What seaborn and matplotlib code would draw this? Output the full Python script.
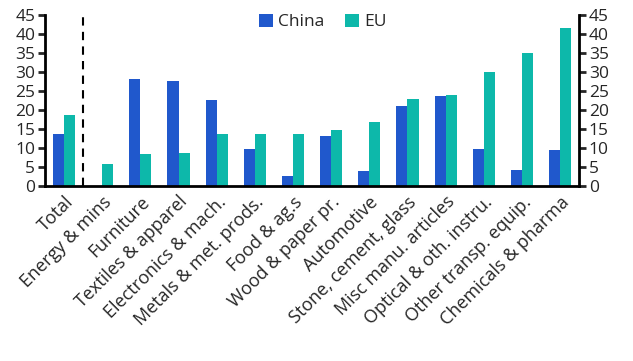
import pandas as pd
import seaborn as sns
import matplotlib.pyplot as plt
from matplotlib.ticker import FixedLocator, NullFormatter
from matplotlib.transforms import ScaledTranslation

sectors = ['Total', 'Energy & mins', 'Furniture', 'Textiles & apparel',
           'Electronics & mach.', 'Metals & met. prods.', 'Food & ag.s',
           'Wood & paper pr.', 'Automotive', 'Stone, cement, glass',
           'Misc manu. articles', 'Optical & oth. instru.',
           'Other transp. equip.', 'Chemicals & pharma']
china = [13.6, 0.0, 28.1, 27.6, 22.6, 9.7, 2.6, 13.1, 3.9, 21.0, 23.7, 9.7, 4.1, 9.4]
eu = [18.6, 5.7, 8.4, 8.6, 13.6, 13.6, 13.6, 14.7, 16.8, 22.9, 23.9, 30.0, 35.0, 41.6]
yticks = list(range(0, 50, 5))

df = pd.DataFrame({'sector': sectors * 2,
                   'value': china + eu,
                   'region': ['China'] * len(sectors) + ['EU'] * len(sectors)})

sns.set_style('white')
plt.rcParams['font.family'] = ['Open Sans', 'DejaVu Sans']

fig = plt.figure(figsize=(6.33, 3.61), dpi=100)
ax = fig.add_axes([0.071, 0.485, 0.844, 0.473])
sns.barplot(data=df, x='sector', y='value', hue='region', ax=ax,
            palette={'China': '#2058CC', 'EU': '#0DB8AA'}, width=0.58,
            saturation=1, dodge=True, linewidth=0)

ax.set_xlim(-0.5, len(sectors) - 0.5)
ax.set_ylim(0, 45)
ax.set_yticks(yticks)
ax.set_xlabel('')
ax.set_ylabel('')
ax.axvline(0.5, color='black', ls=(0, (4, 3)), lw=1.5)

# ticks at category boundaries, labels at centres
ax.xaxis.set_major_locator(FixedLocator([i - 0.5 for i in range(len(sectors) + 1)]))
ax.xaxis.set_major_formatter(NullFormatter())
ax.xaxis.set_minor_locator(FixedLocator(list(range(len(sectors)))))
ax.set_xticklabels(sectors, minor=True, rotation=45, ha='right',
                   rotation_mode='anchor', fontsize=13)
shift = ScaledTranslation(-6 / 100, 0, fig.dpi_scale_trans)
for lab in ax.get_xticklabels(minor=True):
    lab.set_transform(lab.get_transform() + shift)
ax.tick_params(axis='x', which='minor', length=0, pad=5)
ax.tick_params(axis='x', which='major', direction='out', length=5, width=2)
ax.tick_params(axis='y', direction='out', length=5, width=2, labelsize=12.5,
               pad=2, labelright=True, right=True, left=True)

for side in ['left', 'right', 'bottom']:
    ax.spines[side].set_linewidth(2)
    ax.spines[side].set_color('black')
    ax.spines[side].set_visible(True)
ax.spines['top'].set_visible(False)

ax.legend(loc='upper center', bbox_to_anchor=(0.52, 1.1), ncol=2, frameon=False,
          fontsize=12.5, handlelength=0.8, handleheight=0.8, handletextpad=0.3,
          columnspacing=1.2)

fig.savefig('out.png', dpi=100)
